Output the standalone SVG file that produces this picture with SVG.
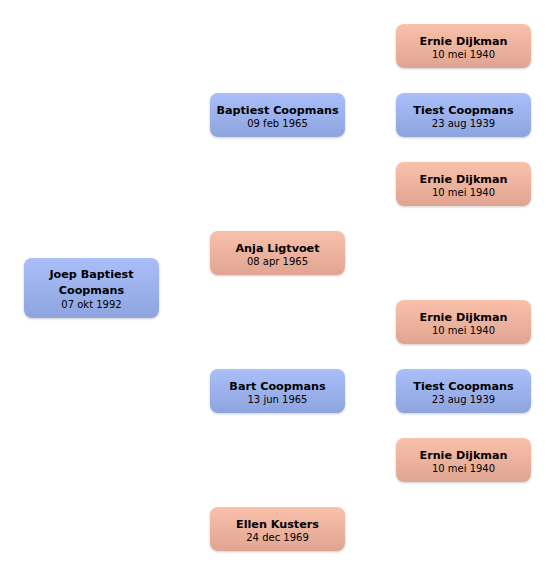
<svg xmlns="http://www.w3.org/2000/svg" width="556" height="576" viewBox="0 0 556 576">
<defs>
<linearGradient id="gb" x1="0" y1="0" x2="0" y2="1"><stop offset="0" stop-color="#aabff9"/><stop offset="1" stop-color="#8ea4df"/></linearGradient>
<linearGradient id="gp" x1="0" y1="0" x2="0" y2="1"><stop offset="0" stop-color="#f9c0aa"/><stop offset="1" stop-color="#e0a592"/></linearGradient>
<filter id="sh" x="-10%" y="-10%" width="120%" height="130%"><feDropShadow dx="0" dy="1" stdDeviation="0.8" flood-color="#000" flood-opacity="0.2"/></filter>
</defs>
<style>
.b{fill:url(#gb);filter:url(#sh)}
.p{fill:url(#gp);filter:url(#sh)}
text{font-family:"DejaVu Sans",Verdana,sans-serif;text-anchor:middle;fill:#000}
.n{font-size:11.2px;font-weight:bold}
.d{font-size:10px}
</style>
<rect width="556" height="576" fill="#fff"/>
<g id="connectors"></g>
<g id="joep"><rect class="b" x="24" y="258" width="135" height="60" rx="8"/><text class="n" x="91.5" y="278">Joep Baptiest</text><text class="n" x="91.5" y="294">Coopmans</text><text class="d" x="91.5" y="308">07 okt 1992</text></g>
<g id="baptiest"><rect class="b" x="210" y="93" width="135" height="44" rx="8"/><text class="n" x="277.5" y="114">Baptiest Coopmans</text><text class="d" x="277.5" y="127">09 feb 1965</text></g>
<g id="anja"><rect class="p" x="210" y="231" width="135" height="44" rx="8"/><text class="n" x="277.5" y="252">Anja Ligtvoet</text><text class="d" x="277.5" y="265">08 apr 1965</text></g>
<g id="bart"><rect class="b" x="210" y="369" width="135" height="44" rx="8"/><text class="n" x="277.5" y="390">Bart Coopmans</text><text class="d" x="277.5" y="403">13 jun 1965</text></g>
<g id="ellen"><rect class="p" x="210" y="507" width="135" height="44" rx="8"/><text class="n" x="277.5" y="528">Ellen Kusters</text><text class="d" x="277.5" y="541">24 dec 1969</text></g>
<g id="ernie1"><rect class="p" x="396" y="24" width="135" height="44" rx="8"/><text class="n" x="463.5" y="45">Ernie Dijkman</text><text class="d" x="463.5" y="58">10 mei 1940</text></g>
<g id="tiest1"><rect class="b" x="396" y="93" width="135" height="44" rx="8"/><text class="n" x="463.5" y="114">Tiest Coopmans</text><text class="d" x="463.5" y="127">23 aug 1939</text></g>
<g id="ernie2"><rect class="p" x="396" y="162" width="135" height="44" rx="8"/><text class="n" x="463.5" y="183">Ernie Dijkman</text><text class="d" x="463.5" y="196">10 mei 1940</text></g>
<g id="ernie3"><rect class="p" x="396" y="300" width="135" height="44" rx="8"/><text class="n" x="463.5" y="321">Ernie Dijkman</text><text class="d" x="463.5" y="334">10 mei 1940</text></g>
<g id="tiest2"><rect class="b" x="396" y="369" width="135" height="44" rx="8"/><text class="n" x="463.5" y="390">Tiest Coopmans</text><text class="d" x="463.5" y="403">23 aug 1939</text></g>
<g id="ernie4"><rect class="p" x="396" y="438" width="135" height="44" rx="8"/><text class="n" x="463.5" y="459">Ernie Dijkman</text><text class="d" x="463.5" y="472">10 mei 1940</text></g>
</svg>
